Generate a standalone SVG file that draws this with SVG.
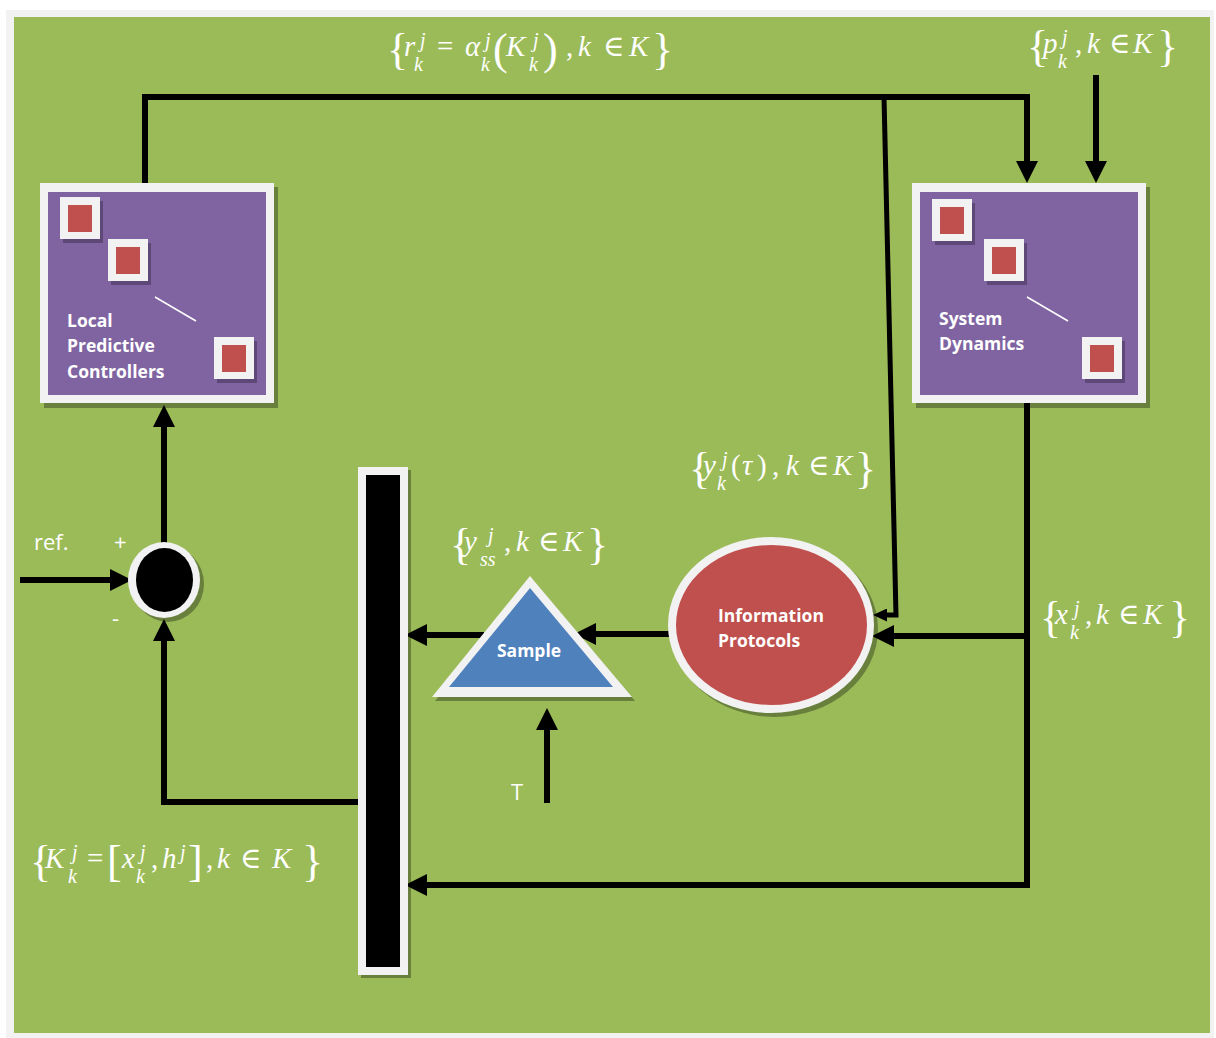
<svg xmlns="http://www.w3.org/2000/svg" width="1216" height="1038" viewBox="0 0 1216 1038">
  <style>
    .frame { fill: #f2f2f2; }
    .field { fill: #9bbb59; }
    .purple { fill: #8064a2; }
    .red { fill: #c0504d; }
    .blue { fill: #4f81bd; }
    .shadow { fill: #000; opacity: 0.32; }
    .sqshadow { fill: #5d4878; }
    .wire { fill: none; stroke: #000; stroke-width: 6; stroke-linejoin: miter; }
    .thin { stroke-width: 5; }
    .lbl { font-family: "Open Sans", "Liberation Sans", sans-serif; font-weight: 700; font-size: 17.5px; fill: #fff; }
    .plain { font-family: "Open Sans", "Liberation Sans", sans-serif; font-size: 22px; fill: #fff; }
    .m { font-family: "Liberation Serif", "DejaVu Serif", serif; font-style: italic; font-size: 29px; fill: #fff; }
    .m .o { font-style: normal; }
    .m .s { font-size: 20px; }
    .m .b { font-style: normal; font-size: 44px; }
  </style>
  <defs>
    <marker id="ah" viewBox="0 0 22 22" refX="1" refY="11" markerWidth="22" markerHeight="22" markerUnits="userSpaceOnUse" orient="auto">
      <path d="M0,0 L22,11 L0,22 z" fill="#000"/>
    </marker>
    <marker id="ahs" viewBox="0 0 14 13" refX="1" refY="6.5" markerWidth="14" markerHeight="13" markerUnits="userSpaceOnUse" orient="auto">
      <path d="M0,0 L14,6.5 L0,13 z" fill="#000"/>
    </marker>
    <g id="sq">
      <rect x="3" y="4" width="40" height="42" class="sqshadow"/>
      <rect x="0" y="0" width="40" height="42" class="frame"/>
      <rect x="8" y="8" width="24" height="27" class="red"/>
    </g>
  </defs>

  <!-- page background -->
  <rect x="0" y="0" width="1216" height="1038" fill="#fff"/>
  <rect x="6" y="10" width="1208" height="1028" class="frame"/>
  <rect x="14" y="17" width="1196" height="1016" class="field"/>

  <!-- connectors -->
  <g id="connectors">
    <polyline class="wire" points="145,184 145,97 1027,97 1027,162" marker-end="url(#ah)"/>
    <polyline class="wire thin" points="884,97 896,615 886,615" marker-end="url(#ahs)"/>
    <line class="wire" x1="1096" y1="75" x2="1096" y2="162" marker-end="url(#ah)"/>
    <polyline class="wire" points="1027,403 1027,885 426,885" marker-end="url(#ah)"/>
    <line class="wire" x1="1027" y1="636" x2="893" y2="636" marker-end="url(#ah)"/>
    <line class="wire" x1="671" y1="634" x2="595" y2="634" marker-end="url(#ah)"/>
    <line class="wire" x1="484" y1="635" x2="426" y2="635" marker-end="url(#ah)"/>
    <line class="wire" x1="547" y1="803" x2="547" y2="729" marker-end="url(#ah)"/>
    <polyline class="wire" points="361,802 164,802 164,640" marker-end="url(#ah)"/>
    <line class="wire" x1="164" y1="543" x2="164" y2="426" marker-end="url(#ah)"/>
    <line class="wire" x1="20" y1="580" x2="111" y2="580" marker-end="url(#ah)"/>
  </g>

  <!-- controllers block -->
  <g id="local-controllers">
    <rect x="44" y="187" width="234" height="221" class="shadow"/>
    <rect x="40" y="183" width="234" height="220" class="frame"/>
    <rect x="48" y="192" width="218" height="203" class="purple"/>
    <use href="#sq" x="60" y="197"/>
    <use href="#sq" x="108" y="239"/>
    <use href="#sq" x="214" y="337"/>
    <line x1="155" y1="297" x2="196" y2="321" stroke="#fff" stroke-width="1.5"/>
    <text class="lbl" x="67" y="327">Local</text>
    <text class="lbl" x="67" y="352">Predictive</text>
    <text class="lbl" x="67" y="378">Controllers</text>
  </g>

  <!-- plant block -->
  <g id="system-dynamics">
    <rect x="916" y="187" width="234" height="221" class="shadow"/>
    <rect x="912" y="183" width="234" height="220" class="frame"/>
    <rect x="920" y="192" width="218" height="203" class="purple"/>
    <use href="#sq" x="932" y="199"/>
    <use href="#sq" x="984" y="239"/>
    <use href="#sq" x="1082" y="337"/>
    <line x1="1027" y1="297" x2="1068" y2="321" stroke="#fff" stroke-width="1.5"/>
    <text class="lbl" x="939" y="325">System</text>
    <text class="lbl" x="939" y="350">Dynamics</text>
  </g>

  <!-- summing junction -->
  <g id="sum">
    <ellipse cx="168" cy="584" rx="36" ry="38" class="shadow"/>
    <ellipse cx="164" cy="580" rx="36" ry="38" class="frame"/>
    <ellipse cx="164.5" cy="580" rx="28.5" ry="32" fill="#000"/>
  </g>

  <!-- collector bar -->
  <g id="bar">
    <rect x="361" y="470" width="50" height="508" class="shadow"/>
    <rect x="358" y="467" width="50" height="508" class="frame"/>
    <rect x="366" y="475" width="34" height="492" fill="#000"/>
  </g>

  <!-- sampler -->
  <g id="sample">
    <polygon points="533,580 635,701 435,701" class="shadow"/>
    <polygon points="530,576 632,697 432,697" class="frame"/>
    <polygon points="530,588 613,687 449,687" class="blue"/>
    <text class="lbl" x="529" y="657" text-anchor="middle">Sample</text>
  </g>

  <!-- protocol block -->
  <g id="information-protocols">
    <ellipse cx="775" cy="629" rx="103" ry="88" class="shadow"/>
    <ellipse cx="771" cy="625" rx="103" ry="88" class="frame"/>
    <ellipse cx="771.5" cy="625" rx="95.5" ry="80" class="red"/>
    <text class="lbl" x="718" y="622">Information</text>
    <text class="lbl" x="718" y="647">Protocols</text>
  </g>

  <!-- plain labels -->
  <g id="labels">
    <text class="plain" x="34" y="550">ref.</text>
    <text class="plain" x="114" y="550" font-size="20">+</text>
    <text class="plain" x="112" y="626" font-size="20">-</text>
    <text class="plain" x="511" y="800">T</text>
  </g>

  <!-- set notation labels -->
  <g id="math">
    <text class="m">
      <tspan class="b" x="387" y="64">{</tspan>
      <tspan x="404" y="56">r</tspan>
      <tspan class="s" x="420" y="47">j</tspan>
      <tspan class="s" x="414" y="71">k</tspan>
      <tspan class="o" x="437" y="56">=</tspan>
      <tspan x="465" y="56">α</tspan>
      <tspan class="s" x="485" y="47">j</tspan>
      <tspan class="s" x="481" y="71">k</tspan>
      <tspan class="b" x="493" y="64">(</tspan>
      <tspan x="506" y="56">K</tspan>
      <tspan class="s" x="533" y="47">j</tspan>
      <tspan class="s" x="529" y="71">k</tspan>
      <tspan class="b" x="543" y="64">)</tspan>
      <tspan class="o" x="566" y="56">,</tspan>
      <tspan x="578" y="56">k</tspan>
      <tspan class="o" x="603" y="56">∈</tspan>
      <tspan x="629" y="56">K</tspan>
      <tspan class="b" x="652" y="64">}</tspan>
    </text>
    <text class="m">
      <tspan class="b" x="1027" y="61">{</tspan>
      <tspan x="1043" y="53">p</tspan>
      <tspan class="s" x="1062" y="44">j</tspan>
      <tspan class="s" x="1058" y="68">k</tspan>
      <tspan class="o" x="1075" y="53">,</tspan>
      <tspan x="1087" y="53">k</tspan>
      <tspan class="o" x="1109" y="53">∈</tspan>
      <tspan x="1133" y="53">K</tspan>
      <tspan class="b" x="1157" y="61">}</tspan>
    </text>
    <text class="m">
      <tspan class="b" x="689" y="483">{</tspan>
      <tspan x="703" y="475">y</tspan>
      <tspan class="s" x="722" y="466">j</tspan>
      <tspan class="s" x="717" y="490">k</tspan>
      <tspan class="o" x="731" y="475">(</tspan>
      <tspan x="742" y="475">τ</tspan>
      <tspan class="o" x="757" y="475">)</tspan>
      <tspan class="o" x="772" y="475">,</tspan>
      <tspan x="786" y="475">k</tspan>
      <tspan class="o" x="808" y="475">∈</tspan>
      <tspan x="833" y="475">K</tspan>
      <tspan class="b" x="855" y="483">}</tspan>
    </text>
    <text class="m">
      <tspan class="b" x="450" y="559">{</tspan>
      <tspan x="464" y="551">y</tspan>
      <tspan class="s" x="488" y="542">j</tspan>
      <tspan class="s" x="480" y="566">ss</tspan>
      <tspan class="o" x="504" y="551">,</tspan>
      <tspan x="516" y="551">k</tspan>
      <tspan class="o" x="538" y="551">∈</tspan>
      <tspan x="563" y="551">K</tspan>
      <tspan class="b" x="587" y="559">}</tspan>
    </text>
    <text class="m">
      <tspan class="b" x="1040" y="632">{</tspan>
      <tspan x="1055" y="624">x</tspan>
      <tspan class="s" x="1074" y="615">j</tspan>
      <tspan class="s" x="1070" y="639">k</tspan>
      <tspan class="o" x="1085" y="624">,</tspan>
      <tspan x="1096" y="624">k</tspan>
      <tspan class="o" x="1118" y="624">∈</tspan>
      <tspan x="1143" y="624">K</tspan>
      <tspan class="b" x="1169" y="632">}</tspan>
    </text>
    <text class="m">
      <tspan class="b" x="30" y="876">{</tspan>
      <tspan x="45" y="868">K</tspan>
      <tspan class="s" x="72" y="859">j</tspan>
      <tspan class="s" x="68" y="883">k</tspan>
      <tspan class="o" x="87" y="868">=</tspan>
      <tspan class="b" x="107" y="876">[</tspan>
      <tspan x="122" y="868">x</tspan>
      <tspan class="s" x="140" y="859">j</tspan>
      <tspan class="s" x="136" y="883">k</tspan>
      <tspan class="o" x="151" y="868">,</tspan>
      <tspan x="162" y="868">h</tspan>
      <tspan class="s" x="180" y="859">j</tspan>
      <tspan class="b" x="188" y="876">]</tspan>
      <tspan class="o" x="206" y="868">,</tspan>
      <tspan x="217" y="868">k</tspan>
      <tspan class="o" x="240" y="868">∈</tspan>
      <tspan x="272" y="868">K</tspan>
      <tspan class="b" x="302" y="876">}</tspan>
    </text>
  </g>
</svg>
